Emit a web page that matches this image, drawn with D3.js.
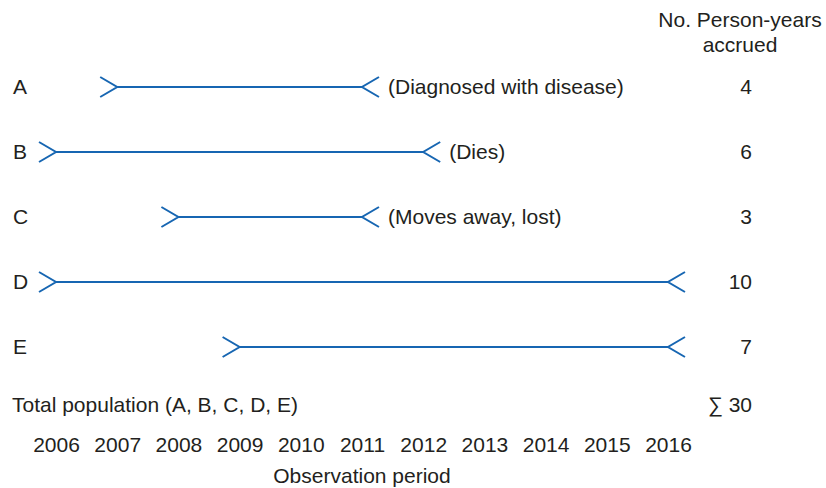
<!DOCTYPE html>
<html>
<head>
<meta charset="utf-8">
<script src="https://cdn.jsdelivr.net/npm/d3@7"></script>
<style>
  body { margin: 0; background: white; }
  text { font-family: "Liberation Sans", Arial, sans-serif; font-size: 21px; fill: #231f20; }
</style>
</head>
<body>
<div id="chart"></div>
<script>
const subjects = ["A", "B", "C", "D", "E"];
const startYears = [2007, 2006, 2008, 2006, 2009];
const endYears = [2011, 2012, 2011, 2016, 2016];
const outcomes = ["(Diagnosed with disease)", "(Dies)", "(Moves away, lost)", "", ""];
const personYears = [4, 6, 3, 10, 7];
const yearTicks = [2006, 2007, 2008, 2009, 2010, 2011, 2012, 2013, 2014, 2015, 2016];

const width = 826, height = 488;
const lineColor = "#1766b2";

const svg = d3.select("#chart").append("svg")
    .attr("width", width)
    .attr("height", height);

const x = d3.scaleLinear().domain([2006, 2016]).range([56, 668]);
const y = d3.scalePoint().domain(subjects).range([87, 347]);

// header
const header = svg.append("text").attr("text-anchor", "middle");
header.append("tspan").attr("x", 740).attr("y", 27).text("No. Person-years");
header.append("tspan").attr("x", 740).attr("y", 52).text("accrued");

const rows = svg.selectAll("g.row")
    .data(subjects.map((s, i) => ({ s, start: startYears[i], end: endYears[i], note: outcomes[i], py: personYears[i] })))
    .enter().append("g")
    .attr("class", "row")
    .attr("transform", d => "translate(0," + y(d.s) + ")");

rows.append("text")
    .attr("x", 13)
    .attr("dy", "0.35em")
    .text(d => d.s);

rows.append("line")
    .attr("x1", d => x(d.start))
    .attr("x2", d => x(d.end))
    .attr("stroke", lineColor)
    .attr("stroke-width", 2);

// chevron at entry ">"
rows.append("path")
    .attr("d", d => { let a = x(d.start); return "M" + (a - 17) + ",-10L" + a + ",0L" + (a - 17) + ",10"; })
    .attr("fill", "none")
    .attr("stroke", lineColor)
    .attr("stroke-width", 2);

// chevron at exit "<"
rows.append("path")
    .attr("d", d => { let b = x(d.end); return "M" + (b + 17) + ",-10L" + b + ",0L" + (b + 17) + ",10"; })
    .attr("fill", "none")
    .attr("stroke", lineColor)
    .attr("stroke-width", 2);

rows.append("text")
    .attr("x", d => x(d.end) + 26)
    .attr("dy", "0.35em")
    .text(d => d.note);

rows.append("text")
    .attr("x", 752)
    .attr("dy", "0.35em")
    .attr("text-anchor", "end")
    .text(d => d.py);

// total row
svg.append("text")
    .attr("x", 12)
    .attr("y", 405)
    .attr("dy", "0.35em")
    .text("Total population (" + subjects.join(", ") + ")");

svg.append("text")
    .attr("x", 752)
    .attr("y", 405)
    .attr("dy", "0.35em")
    .attr("text-anchor", "end")
    .text("\u2211 " + d3.sum(personYears));

// year axis
const xAxis = d3.axisBottom(x)
    .tickValues(yearTicks)
    .tickFormat(d3.format("d"))
    .tickSize(0)
    .tickPadding(0);

const ax = svg.append("g")
    .attr("transform", "translate(0,437)")
    .call(xAxis)
    .call(g => g.select(".domain").remove());

ax.selectAll(".tick text")
    .attr("y", 0)
    .attr("dy", "0.71em")
    .style("font-size", "21px")
    .style("font-family", "Liberation Sans, Arial, sans-serif")
    .attr("fill", "#231f20");

svg.append("text")
    .attr("x", (x.range()[0] + x.range()[1]) / 2)
    .attr("y", 476)
    .attr("dy", "0.35em")
    .attr("text-anchor", "middle")
    .text("Observation period");
</script>
</body>
</html>
